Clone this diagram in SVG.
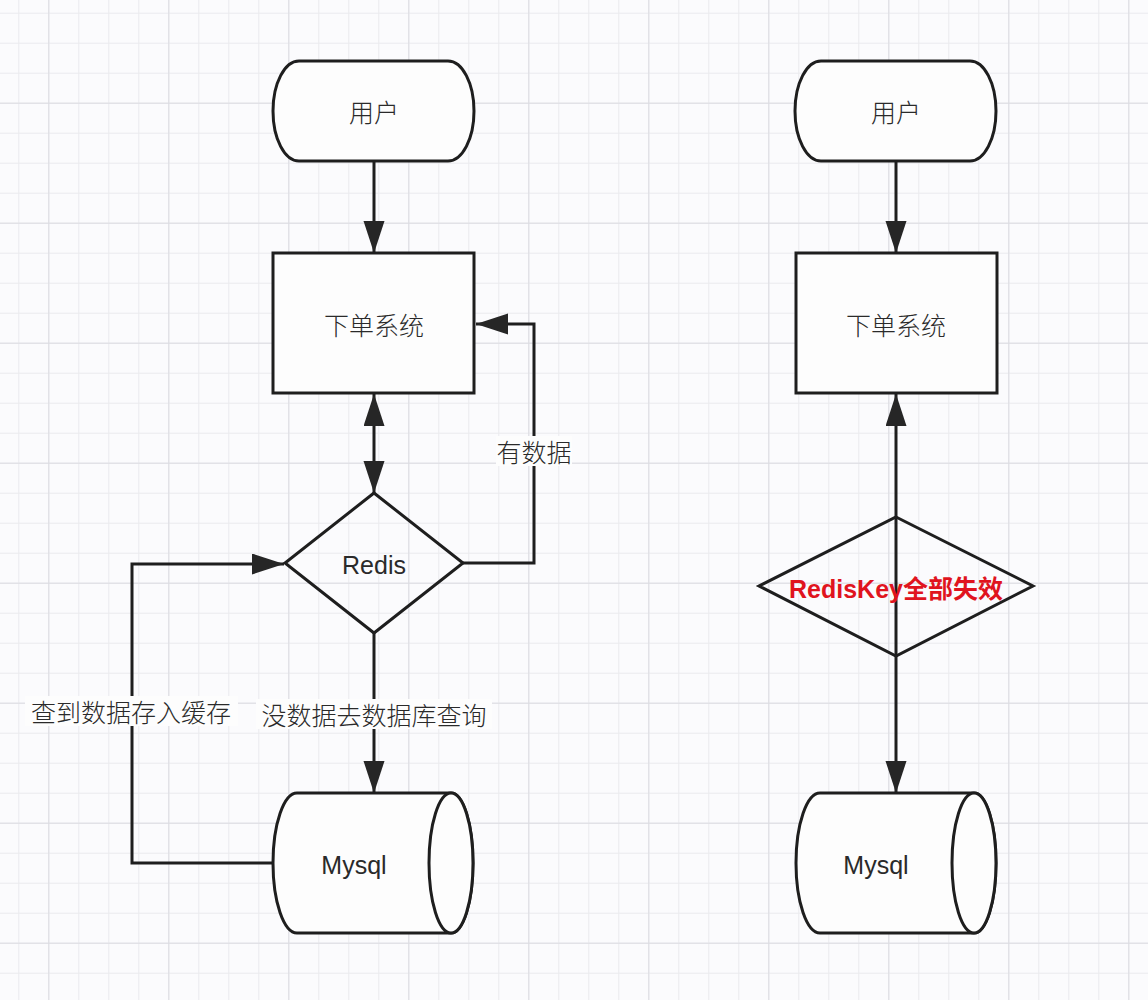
<svg xmlns="http://www.w3.org/2000/svg" width="1148" height="1000" viewBox="0 0 1148 1000">
<defs>
<pattern id="minor" patternUnits="userSpaceOnUse" x="18.3" y="12.7" width="30" height="30">
<path d="M0.5,0 V30 M0,0.5 H30" fill="none" stroke="#eaeaee" stroke-width="1"/>
</pattern>
<pattern id="major" patternUnits="userSpaceOnUse" x="48.3" y="102.7" width="120" height="120">
<path d="M0.5,0 V120 M0,0.5 H120" fill="none" stroke="#dcdce2" stroke-width="1"/>
</pattern>
<marker id="arr" markerUnits="userSpaceOnUse" markerWidth="34" markerHeight="22" refX="32" refY="10.5" orient="auto-start-reverse">
<path d="M0,0 L32,10.5 L0,21 Z" fill="#262626"/>
</marker>
<style>
.shape{fill:#fdfdfd;stroke:#1e1e1e;stroke-width:3}
.dia{fill:none;stroke:#1e1e1e;stroke-width:3}
.line{fill:none;stroke:#1e1e1e;stroke-width:3}
.t{font-family:"Liberation Sans","Noto Sans CJK SC",sans-serif;font-size:25px;fill:#2a2a2a;text-anchor:middle;dominant-baseline:central}
.cj{font-family:"Noto Sans CJK SC",sans-serif;font-size:25px;font-weight:300;fill:#2a2a2a;text-anchor:middle;dominant-baseline:central}
.bg{fill:#fdfdfd}
.red{font-family:"Liberation Sans","Noto Sans CJK SC",sans-serif;font-size:25px;font-weight:bold;fill:#e0141e;text-anchor:middle;dominant-baseline:central}
</style>
</defs>
<rect width="1148" height="1000" fill="#fbfbfd"/>
<rect width="1148" height="1000" fill="url(#minor)"/>
<rect width="1148" height="1000" fill="url(#major)"/>

<g id="connectors">
<path class="line" d="M374,162 L374,253" marker-end="url(#arr)"/>
<path class="line" d="M374,394 L374,493" marker-start="url(#arr)" marker-end="url(#arr)"/>
<path class="line" d="M463,563 L534,563 L534,324 L476,324" marker-end="url(#arr)"/>
<path class="line" d="M374,633 L374,793" marker-end="url(#arr)"/>
<path class="line" d="M273,863 L132,863 L132,564 L284,564" marker-end="url(#arr)"/>
<rect class="bg" x="496" y="436" width="76" height="30"/>
<text class="cj" x="534" y="451">有数据</text>
<rect class="bg" x="25" y="696" width="213" height="30"/>
<text class="cj" x="131" y="711">查到数据存入缓存</text>
<rect class="bg" x="256" y="699" width="236" height="30"/>
<text class="cj" x="374" y="714">没数据去数据库查询</text>

<path class="line" d="M896,162 L896,253" marker-end="url(#arr)"/>
<path class="line" d="M896,517 L896,394" marker-end="url(#arr)"/>
<path class="line" d="M896,517 L896,656"/>
<path class="line" d="M896,656 L896,793" marker-end="url(#arr)"/>
</g>

<g id="user-left">
<path class="shape" d="M299,61 H448 A26,50 0 0 1 448,161 H299 A26,50 0 0 1 299,61 Z"/>
<text class="cj" x="374" y="111">用户</text>
</g>
<g id="order-left">
<rect class="shape" x="273" y="253" width="201" height="140"/>
<text class="cj" x="374" y="324">下单系统</text>
</g>
<g id="redis-left">
<path class="dia" d="M374,493 L463,563 L374,633 L285,563 Z"/>
<text class="t" x="374" y="565">Redis</text>
</g>
<g id="mysql-left">
<path class="shape" d="M297,793 H451 A22,70 0 0 1 451,933 H297 A24,70 0 0 1 297,793 Z"/>
<ellipse class="shape" cx="451" cy="863" rx="22" ry="70"/>
<text class="t" x="354" y="865">Mysql</text>
</g>

<g id="user-right">
<path class="shape" d="M821,61 H970 A26,50 0 0 1 970,161 H821 A26,50 0 0 1 821,61 Z"/>
<text class="cj" x="896" y="111">用户</text>
</g>
<g id="order-right">
<rect class="shape" x="796" y="253" width="201" height="140"/>
<text class="cj" x="896" y="324">下单系统</text>
</g>
<g id="redis-right">
<path class="dia" d="M896,517 L1033,586 L896,656 L759,586 Z"/>
<text class="red" x="896" y="589">RedisKey全部失效</text>
</g>
<g id="mysql-right">
<path class="shape" d="M820,793 H974 A22,70 0 0 1 974,933 H820 A24,70 0 0 1 820,793 Z"/>
<ellipse class="shape" cx="974" cy="863" rx="22" ry="70"/>
<text class="t" x="876" y="865">Mysql</text>
</g>
</svg>
